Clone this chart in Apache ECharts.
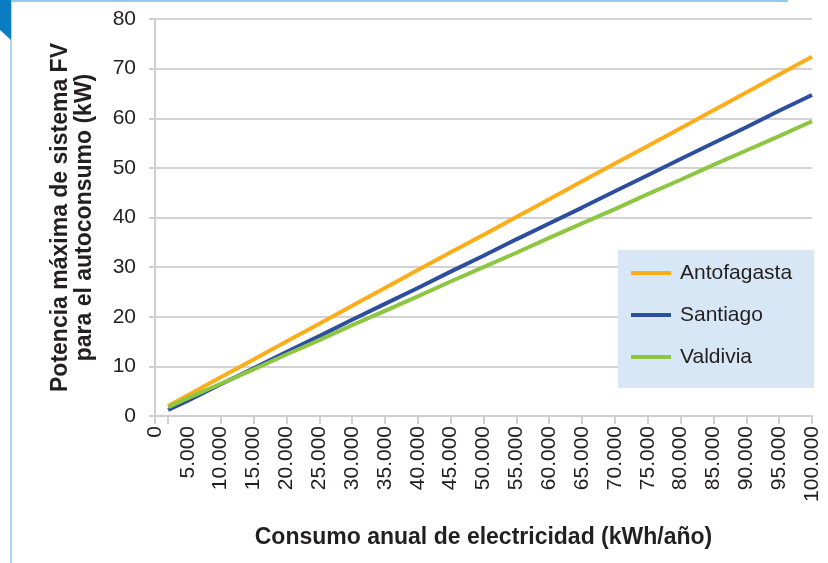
<!DOCTYPE html>
<html><head><meta charset="utf-8">
<script src="https://cdn.jsdelivr.net/npm/echarts@6/dist/echarts.min.js"></script>
<style>html,body{margin:0;padding:0;background:#fff}#c{width:828px;height:563px}</style>
</head><body><div id="c"></div>
<script>
const xValues = [2000, 5000, 10000, 15000, 20000, 25000, 30000, 35000, 40000, 45000, 50000, 55000, 60000, 65000, 70000, 75000, 80000, 85000, 90000, 95000, 100000];
const antofagasta = [2.0, 4.2, 7.8, 11.4, 15.0, 18.6, 22.2, 25.8, 29.4, 33.0, 36.5, 40.1, 43.7, 47.3, 50.9, 54.4, 58.0, 61.6, 65.2, 68.8, 72.4];
const santiago = [1.2, 3.1, 6.4, 9.6, 12.9, 16.1, 19.4, 22.6, 25.8, 29.1, 32.3, 35.6, 38.8, 42.0, 45.3, 48.5, 51.8, 55.0, 58.2, 61.5, 64.7];
const valdivia = [1.8, 3.6, 6.5, 9.4, 12.4, 15.3, 18.3, 21.2, 24.1, 27.1, 30.0, 32.9, 35.9, 38.8, 41.7, 44.7, 47.6, 50.6, 53.5, 56.4, 59.4];
const xLabelValues = [0, 5000, 10000, 15000, 20000, 25000, 30000, 35000, 40000, 45000, 50000, 55000, 60000, 65000, 70000, 75000, 80000, 85000, 90000, 95000, 100000];
const xTickValues = [0, 2000, 10000, 15000, 20000, 25000, 30000, 35000, 40000, 45000, 50000, 55000, 60000, 65000, 70000, 75000, 80000, 85000, 90000, 95000, 100000];
const seriesNames = ['Antofagasta', 'Santiago', 'Valdivia'];
const colors = ['#FBAE1A', '#2D4D9E', '#8DC641'];

const pair = arr => xValues.map((x, i) => [x, arr[i]]);
const chart = echarts.init(document.getElementById('c'), null, {renderer: 'canvas'});
const font = 'Liberation Sans, Arial, sans-serif';
chart.setOption({
  animation: false,
  color: colors,
  grid: {left: 155, right: 16, top: 19, bottom: 147, containLabel: false},
  graphic: [
    {type: 'line', shape: {x1: 11, y1: 0, x2: 11, y2: 563}, style: {stroke: '#B3D4F0', lineWidth: 2}, z: 100},
    {type: 'line', shape: {x1: 11, y1: 1, x2: 788, y2: 1}, style: {stroke: '#8FCBF0', lineWidth: 2}, z: 100},
    {type: 'polygon', shape: {points: [[0, 0], [11, 0], [11, 40], [0, 30]]}, style: {fill: '#0B7DC2'}, z: 101}
  ],
  legend: {
    orient: 'vertical', left: 618, top: 250,
    backgroundColor: '#D8E7F5',
    padding: [11, 22, 19, 13],
    itemWidth: 40, itemHeight: 4, itemGap: 18,
    icon: 'rect',
    textStyle: {fontFamily: font, fontSize: 21, color: '#231F20', lineHeight: 24, padding: [0, 0, 0, 4]},
    data: seriesNames
  },
  xAxis: {
    type: 'value', min: 0, max: 100000, interval: 5000,
    name: 'Consumo anual de electricidad (kWh/año)',
    nameLocation: 'middle', nameGap: 110,
    nameTextStyle: {fontFamily: font, fontSize: 23, fontWeight: 'bold', color: '#231F20'},
    axisLine: {show: true, lineStyle: {color: '#CFCFCF', width: 2}},
    axisTick: {show: true, length: 8, lineStyle: {color: '#CFCFCF', width: 2}, customValues: xTickValues},
    axisLabel: {
      rotate: 90, margin: 10, fontFamily: font, fontSize: 21, color: '#231F20',
      customValues: xLabelValues,
      formatter: v => v === 0 ? '0' : (v / 1000) + '.000'
    },
    splitLine: {show: false}
  },
  yAxis: {
    type: 'value', min: 0, max: 80, interval: 10,
    name: 'Potencia máxima de sistema FV\npara el autoconsumo (kW)',
    nameLocation: 'middle', nameGap: 58, nameRotate: 90,
    nameTextStyle: {fontFamily: font, fontSize: 23, fontWeight: 'bold', color: '#231F20', lineHeight: 24},
    axisLine: {show: true, lineStyle: {color: '#CFCFCF', width: 2}},
    axisTick: {show: true, length: 6, lineStyle: {color: '#CFCFCF', width: 2}},
    axisLabel: {fontFamily: font, fontSize: 21, color: '#231F20', margin: 19},
    splitLine: {show: true, lineStyle: {color: '#D3D3D3', width: 2}}
  },
  series: [
    {name: seriesNames[0], type: 'line', data: pair(antofagasta), showSymbol: false, symbol: 'none', lineStyle: {width: 4}, z: 3},
    {name: seriesNames[1], type: 'line', data: pair(santiago), showSymbol: false, symbol: 'none', lineStyle: {width: 4}, z: 2},
    {name: seriesNames[2], type: 'line', data: pair(valdivia), showSymbol: false, symbol: 'none', lineStyle: {width: 4}, z: 4}
  ]
});
</script></body></html>
